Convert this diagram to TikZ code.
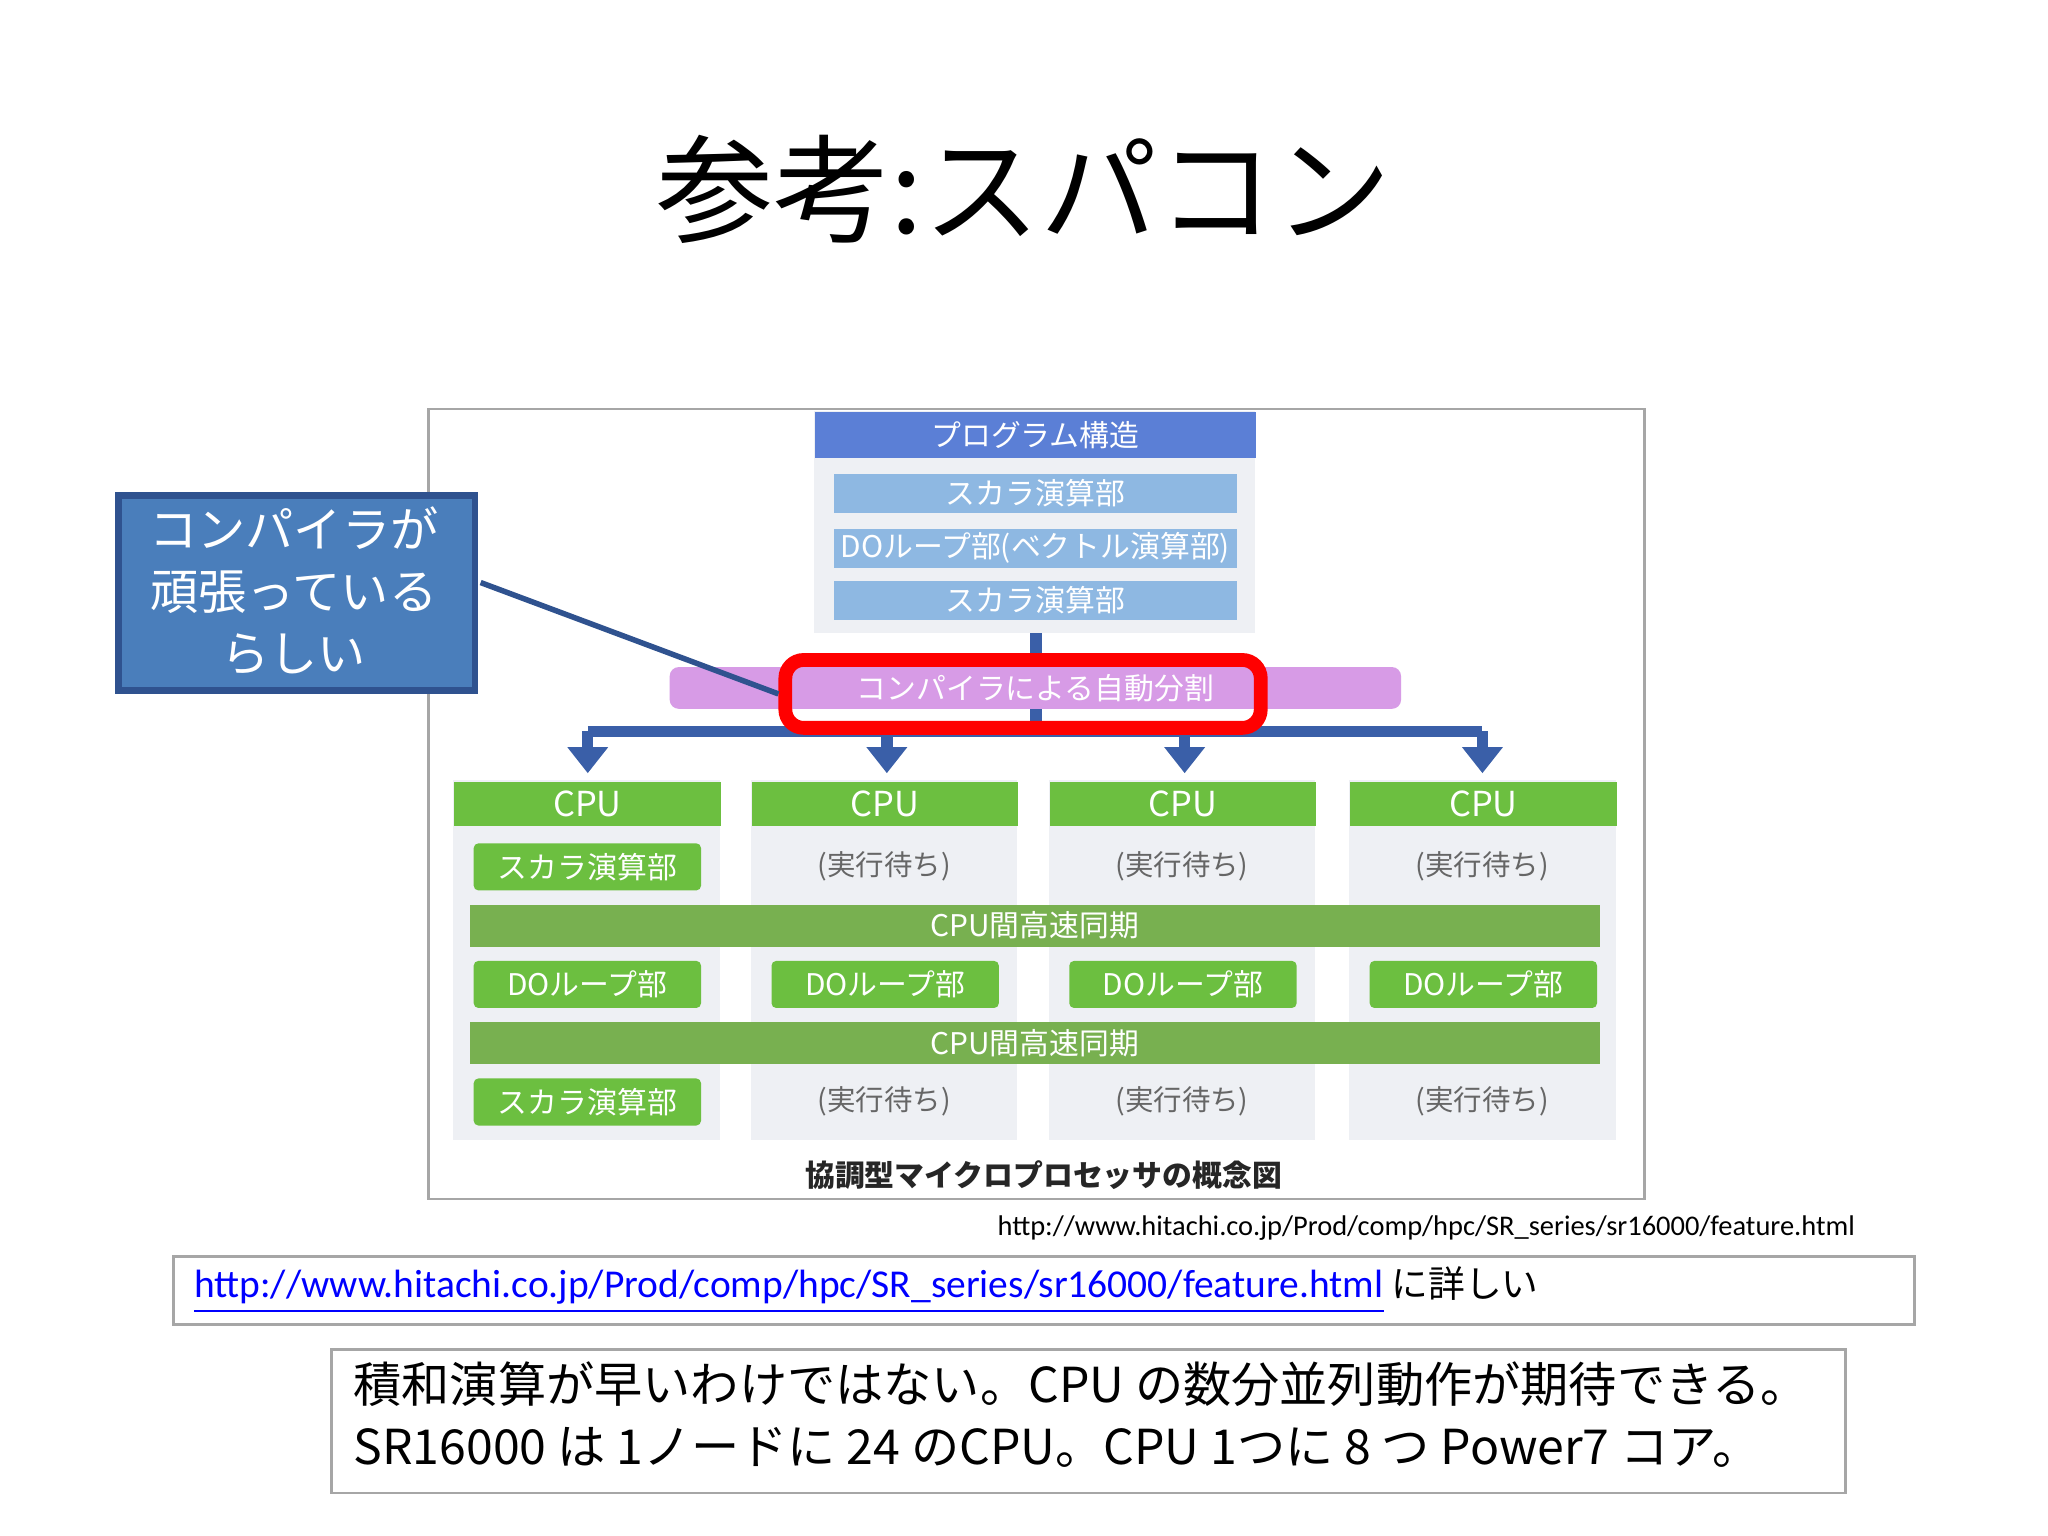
\documentclass[tikz,border=0pt]{standalone}
\usepackage{fontspec}
\setmainfont{Noto Sans CJK JP}
\newfontfamily\lat{Carlito}
\usetikzlibrary{arrows.meta}
\definecolor{hdrblue}{HTML}{5B7FD6}
\definecolor{barblue}{HTML}{8EB8E2}
\definecolor{lineblue}{HTML}{3A5FA8}
\definecolor{pgray}{HTML}{EEF0F4}
\definecolor{gr}{HTML}{6CBF40}
\definecolor{grbar}{HTML}{78B050}
\definecolor{purp}{HTML}{D79BE6}
\definecolor{callb}{HTML}{4A7EBB}
\definecolor{callbd}{HTML}{2F528F}
\tikzset{
 bar/.style={draw=none,text=white,font=\fontsize{6.5}{8}\selectfont,inner sep=0pt,anchor=north west},
 wait/.style={text=gray!80!black,font=\fontsize{6.2}{8}\selectfont},
}
\begin{document}
\begin{tikzpicture}[x=0.1mm,y=-0.1mm]
\useasboundingbox (0,0) rectangle (1568,1176);
\fill[white] (0,0) rectangle (1568,1176);
\node (title) at (784,145) {\fontsize{25.5}{30}\selectfont 参考:スパコン};
% frame
\node[draw=gray!70,line width=0.6pt,minimum width=93.1mm,minimum height=60.5mm,anchor=north west,inner sep=0pt] (frame) at (327,312) {};
% program structure
\fill[pgray] (623,315) rectangle (961,485);
\node[bar,fill=hdrblue,minimum width=33.8mm,minimum height=3.5mm] (ps) at (623,315) {プログラム構造};
\node[bar,fill=barblue,minimum width=30.8mm,minimum height=3mm] (s1) at (638,362) {スカラ演算部};
\node[bar,fill=barblue,minimum width=30.8mm,minimum height=3mm] (d1) at (638,404) {DOループ部(ベクトル演算部)};
\node[bar,fill=barblue,minimum width=30.8mm,minimum height=3mm] (s2) at (638,444) {スカラ演算部};
% connectors
\coordinate (top) at (793,485);
\coordinate (mid) at (793,560);
\coordinate (l) at (450,560);
\coordinate (r) at (1135,560);
\draw[lineblue,line width=2.5pt] (top) -- (mid);
\draw[lineblue,line width=2.5pt] (l) -- (r);
\foreach \x/\n in {450/a,679/b,907/c,1135/d}{
 \coordinate (t\n) at (\x,560); \coordinate (e\n) at (\x,592);
 \draw[lineblue,line width=2.5pt,-{Triangle[length=2mm,width=3mm]}] (t\n) -- (e\n);
}
\node[bar,fill=purp,minimum width=56mm,minimum height=3.2mm,rounded corners=2pt] (auto) at (512,510) {コンパイラによる自動分割};
\node[draw=red,line width=3pt,rounded corners=4pt,minimum width=36.4mm,minimum height=5.2mm,anchor=north west] (hl) at (596,500) {};
% CPU columns
\foreach \x/\n in {347/1,575/2,803/3,1033/4}{
 \fill[pgray] (\x,597) rectangle ++(204,276);
 \node[bar,fill=gr,minimum width=20.4mm,minimum height=3.4mm,font=\fontsize{7.5}{9}\selectfont] (cpu\n) at (\x,598) {CPU};
}
\node[bar,fill=gr,minimum width=17.4mm,minimum height=3.6mm,rounded corners=1pt] (c1a) at (362,645) {スカラ演算部};
\node[bar,fill=gr,minimum width=17.4mm,minimum height=3.6mm,rounded corners=1pt] (c1c) at (362,825) {スカラ演算部};
\foreach \x/\n in {362/1,590/2,818/3,1048/4}{
 \node[bar,fill=gr,minimum width=17.4mm,minimum height=3.6mm,rounded corners=1pt] (do\n) at (\x,735) {DOループ部};
}
\foreach \x/\n in {677/2,905/3,1135/4}{
 \node[wait] (w\n a) at (\x,663) {(実行待ち)};
 \node[wait] (w\n b) at (\x,843) {(実行待ち)};
}
\node[bar,fill=grbar,minimum width=86.5mm,minimum height=3.2mm] (sync1) at (359,692) {CPU間高速同期};
\node[bar,fill=grbar,minimum width=86.5mm,minimum height=3.2mm] (sync2) at (359,782) {CPU間高速同期};
\node[text=gray!30!black,font=\fontsize{6.5}{8}\selectfont\bfseries] (cap) at (799,900) {協調型マイクロプロセッサの概念図};
\node[font=\lat\fontsize{6.2}{7}\selectfont] (url) at (1092,940) {http://www.hitachi.co.jp/Prod/comp/hpc/SR\_series/sr16000/feature.html};
% callout
\node[fill=callb,draw=callbd,line width=1.5pt,minimum width=27.3mm,minimum height=14.9mm,anchor=north west,inner sep=0pt] (call) at (88,377) {};
\node[text=white,align=center,font=\fontsize{10.5}{13.5}\selectfont] (calltxt) at (225,452) {コンパイラが\\頑張っている\\らしい};
\coordinate (cs) at (368,446);
\draw[callbd,line width=1.2pt] (cs) -- (hl.west);
% link box
\node[draw=gray!70,line width=0.6pt,minimum width=133.3mm,minimum height=5.2mm,anchor=north west,inner sep=0pt] (lb) at (132,961) {};
\node[anchor=west,inner sep=0pt,font=\fontsize{8}{10}\selectfont] (lt) at (148,988) {{\lat\fontsize{8.6}{10}\selectfont\color{blue}\underline{http://www.hitachi.co.jp/Prod/comp/hpc/SR\_series/sr16000/feature.html}} に詳しい};
% note box
\node[draw=gray!70,line width=0.6pt,minimum width=115.9mm,minimum height=11mm,anchor=north west,inner sep=0pt] (nb) at (253,1032) {};
\node[anchor=north west,align=left,inner sep=0pt,font=\fontsize{10.5}{13.5}\selectfont] (nt) at (270,1042) {積和演算が早いわけではない。CPU の数分並列動作が期待できる。\\SR16000 は 1ノードに 24 のCPU。CPU 1つに 8 つ Power7 コア。};
\end{tikzpicture}
\end{document}
